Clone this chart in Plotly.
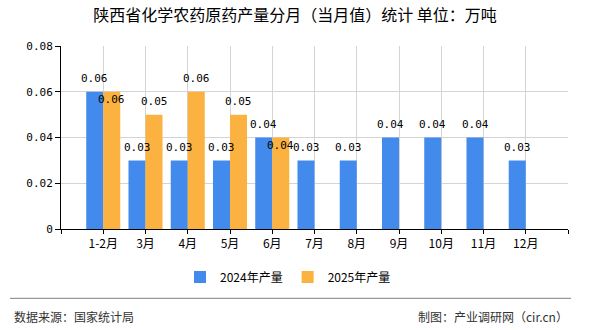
import plotly.graph_objects as go

months = ["1-2月", "3月", "4月", "5月", "6月", "7月", "8月", "9月", "10月", "11月", "12月"]
y2024 = [0.06, 0.03, 0.03, 0.03, 0.04, 0.03, 0.03, 0.04, 0.04, 0.04, 0.03]
y2025 = [0.06, 0.05, 0.06, 0.05, 0.04]
inside2025 = [True, False, False, False, True]
yticks = [0, 0.02, 0.04, 0.06, 0.08]
ytick_text = ["0", "0.02", "0.04", "0.06", "0.08"]

xs = list(range(len(months)))
CJK = "Noto Sans CJK SC"
MONO = "DejaVu Sans Mono"
BARGAP = 0.195
OFF = (1 - BARGAP) / 4  # half of one bar's width within a group of two

fig = go.Figure()
fig.add_trace(go.Bar(
    x=xs, y=y2024, name="2024年产量", marker=dict(color="#428bed", line=dict(width=0)),
))
fig.add_trace(go.Bar(
    x=xs[:len(y2025)], y=y2025, name="2025年产量", marker=dict(color="#fbb240", line=dict(width=0)),
))

labels = []
for i, v in zip(xs, y2024):
    labels.append(dict(x=i - OFF, y=v, xref="x", yref="y", text=f"{v:.2f}", showarrow=False,
                       yanchor="middle", yshift=13,
                       font=dict(family=MONO, size=11, color="#000")))
for i, v, ins in zip(xs, y2025, inside2025):
    labels.append(dict(x=i + OFF, y=v, xref="x", yref="y", text=f"{v:.2f}", showarrow=False,
                       yanchor="middle", yshift=-8 if ins else 13,
                       font=dict(family=MONO, size=11, color="#000")))

fig.update_layout(
    width=590, height=330,
    margin=dict(l=61, r=22, t=46, b=101),
    paper_bgcolor="white", plot_bgcolor="white",
    barmode="group", bargap=BARGAP, bargroupgap=0,
    font=dict(family=CJK, size=12, color="#000"),
    title=dict(text="陕西省化学农药原药产量分月（当月值）统计 单位：万吨",
               x=0.5, xanchor="center", xref="container",
               y=1 - 15 / 330, yanchor="middle", yref="container",
               font=dict(family=CJK, size=16, color="#000")),
    showlegend=True,
    legend=dict(orientation="h", x=(288 - 61) / 507, xanchor="center",
                y=(229 - 277) / 183, yanchor="middle",
                font=dict(family=CJK, size=12, color="#000"),
                bgcolor="rgba(0,0,0,0)", itemclick=False, itemwidth=30),
    xaxis=dict(
        range=[-1, 11], tickmode="array",
        tickvals=list(range(-1, len(months) + 1)),
        ticktext=[""] + months + [""],
        showgrid=True, gridcolor="#d4d4d4", gridwidth=1,
        showline=True, linecolor="#000", linewidth=1,
        ticks="outside", ticklen=4, tickcolor="#000",
        tickfont=dict(family=CJK, size=12, color="#000"),
        zeroline=False, fixedrange=True,
    ),
    yaxis=dict(
        range=[0, 0.08], tickmode="array", tickvals=yticks, ticktext=ytick_text,
        showgrid=True, gridcolor="#d4d4d4", gridwidth=1,
        showline=True, linecolor="#000", linewidth=1,
        ticks="outside", ticklen=5, tickcolor="#000",
        tickfont=dict(family=MONO, size=11, color="#000"),
        zeroline=False, fixedrange=True,
    ),
    shapes=[dict(type="line", xref="paper", yref="paper",
                 x0=(10 - 61) / 507, x1=(571 - 61) / 507,
                 y0=(229 - 298.3) / 183, y1=(229 - 298.3) / 183,
                 line=dict(color="#808080", width=1))],
    annotations=labels + [
        dict(text="数据来源：国家统计局", xref="paper", yref="paper",
             x=(12 - 61) / 507, y=(229 - 316.7) / 183, xanchor="left", yanchor="middle",
             showarrow=False, font=dict(family=CJK, size=12, color="#333")),
        dict(text="制图：产业调研网（cir.cn）", xref="paper", yref="paper",
             x=(570 - 61) / 507, y=(229 - 316.7) / 183, xanchor="right", yanchor="middle",
             showarrow=False, font=dict(family=CJK, size=12, color="#333")),
    ],
)

fig.write_html("out.html", config={"displayModeBar": False})
